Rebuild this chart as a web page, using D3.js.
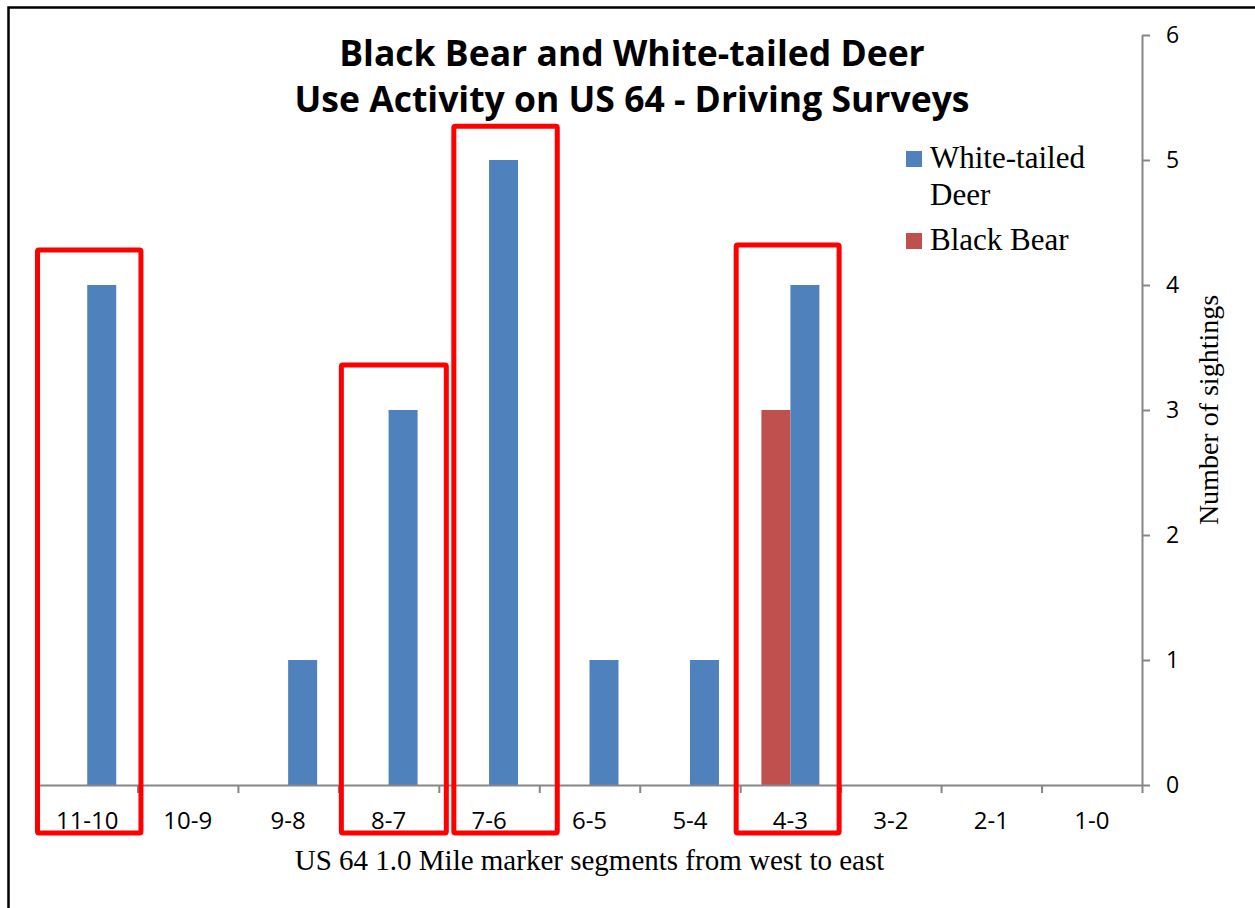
<!DOCTYPE html>
<html>
<head>
<meta charset="utf-8">
<script src="https://cdn.jsdelivr.net/npm/d3@7"></script>
<style>
  html, body { margin: 0; padding: 0; background: #fff; }
  svg { display: block; }
</style>
</head>
<body>
<script>
// Mile-marker segments along US 64, west to east
const categories = ["11-10", "10-9", "9-8", "8-7", "7-6", "6-5", "5-4", "4-3", "3-2", "2-1", "1-0"];
// Sightings per segment
const deerCounts = [4, 0, 1, 3, 5, 1, 1, 4, 0, 0, 0];
const bearCounts = [0, 0, 0, 0, 0, 0, 0, 3, 0, 0, 0];
const yTicks = [0, 1, 2, 3, 4, 5, 6];
// Segments called out with a red box, and how high each box reaches (in sightings)
const highlighted = ["11-10", "8-7", "7-6", "4-3"];
const highlightTops = [4.28, 3.36, 5.27, 4.32];

const W = 1255, H = 908;
const plot = { left: 37, right: 1142, top: 35, bottom: 785 };
const colors = { bear: "#C0504D", deer: "#4F81BD" };
const axisColor = "#868686";
const gapRatio = 1.464; // space between groups relative to one bar

const svg = d3.select("body").append("svg").attr("width", W).attr("height", H);

// chart frame
svg.append("rect")
  .attr("x", 8.5).attr("y", 7.5).attr("width", W + 10).attr("height", H + 10)
  .attr("fill", "none").attr("stroke", "#000").attr("stroke-width", 2.5);

const x = d3.scaleBand().domain(categories).range([plot.left, plot.right]).paddingInner(0).paddingOuter(0);
const seriesKeys = ["bear", "deer"];
const x1 = d3.scaleBand().domain(seriesKeys).range([0, x.bandwidth()]).paddingInner(0).paddingOuter(gapRatio / 2);
const y = d3.scaleLinear().domain([0, 6]).range([plot.bottom, plot.top]);

const rows = categories.map((c, i) => ({ cat: c, bear: bearCounts[i], deer: deerCounts[i] }));

// bars
const groups = svg.append("g").selectAll("g").data(rows).join("g")
  .attr("transform", d => `translate(${x(d.cat)},0)`);
groups.selectAll("rect")
  .data(d => seriesKeys.map(k => ({ key: k, value: d[k] })).filter(v => v.value > 0))
  .join("rect")
  .attr("x", d => x1(d.key))
  .attr("width", x1.bandwidth())
  .attr("y", d => y(d.value))
  .attr("height", d => y(0) - y(d.value))
  .attr("fill", d => colors[d.key]);

// x axis: boundary ticks
const edge = d3.scaleLinear().domain([0, categories.length]).range([plot.left, plot.right]);
const xEdgeAxis = svg.append("g").attr("transform", `translate(0,${plot.bottom})`)
  .call(d3.axisBottom(edge).tickValues(d3.range(0, categories.length + 1)).tickSize(8).tickSizeOuter(0).tickFormat(""));
xEdgeAxis.selectAll("path, line").attr("stroke", axisColor).attr("stroke-width", 2);

// x axis: category labels
const xLabelAxis = svg.append("g").attr("transform", `translate(0,${plot.bottom})`)
  .call(d3.axisBottom(x).tickSize(0).tickPadding(27));
xLabelAxis.select(".domain").remove();
xLabelAxis.selectAll("text")
  .attr("font-family", "'Open Sans', sans-serif").attr("font-size", 24).attr("fill", "#000");

// y axis on the right
const yAxis = svg.append("g").attr("transform", `translate(${plot.right},0)`)
  .call(d3.axisRight(y).tickValues(yTicks).tickSize(8).tickSizeOuter(0).tickPadding(16).tickFormat(d3.format("d")));
yAxis.selectAll("path, line").attr("stroke", axisColor).attr("stroke-width", 2);
yAxis.selectAll("text")
  .attr("font-family", "'Open Sans', sans-serif").attr("font-size", 23).attr("fill", "#000");

// axis titles
svg.append("text")
  .attr("x", (plot.left + plot.right) / 2).attr("y", 870)
  .attr("text-anchor", "middle")
  .attr("font-family", "'Liberation Serif', 'Times New Roman', serif").attr("font-size", 29)
  .text("US 64 1.0 Mile marker segments from west to east");

svg.append("text")
  .attr("transform", `translate(1218,${(plot.top + plot.bottom) / 2}) rotate(-90)`)
  .attr("text-anchor", "middle")
  .attr("font-family", "'Liberation Serif', 'Times New Roman', serif").attr("font-size", 28)
  .text("Number of sightings");

// title
const title = svg.append("text")
  .attr("text-anchor", "middle")
  .attr("font-family", "'Open Sans', sans-serif").attr("font-weight", 700).attr("font-size", 35.5);
title.append("tspan").attr("x", 632).attr("y", 66).text("Black Bear and White-tailed Deer");
title.append("tspan").attr("x", 632).attr("y", 112).text("Use Activity on US 64 - Driving Surveys");

// legend
const legendItems = [
  { key: "deer", lines: ["White-tailed", "Deer"], y: 151 },
  { key: "bear", lines: ["Black Bear"], y: 233 }
];
const legend = svg.append("g").selectAll("g").data(legendItems).join("g");
legend.append("rect")
  .attr("x", 906).attr("y", d => d.y).attr("width", 16).attr("height", 16)
  .attr("fill", d => colors[d.key]);
legend.append("text")
  .attr("font-family", "'Liberation Serif', 'Times New Roman', serif").attr("font-size", 31)
  .selectAll("tspan").data(d => d.lines.map((l, i) => ({ l, i, y: d.y }))).join("tspan")
  .attr("x", 930).attr("y", d => d.y + 17 + d.i * 37).text(d => d.l);

// red call-out boxes
const boxInsets = [[0.5, 3.5], [3, 7.5], [15, 18], [-4, -1.5]];
svg.append("g").selectAll("rect").data(highlighted.map((c, i) => ({ c, top: highlightTops[i], inset: boxInsets[i] })))
  .join("rect")
  .attr("x", d => x(d.c) + d.inset[0])
  .attr("width", d => x.bandwidth() - d.inset[0] + d.inset[1])
  .attr("y", d => y(d.top))
  .attr("height", d => plot.bottom + 48 - y(d.top))
  .attr("rx", 1.5)
  .attr("fill", "none").attr("stroke", "#FF0000").attr("stroke-width", 5);
</script>
</body>
</html>
